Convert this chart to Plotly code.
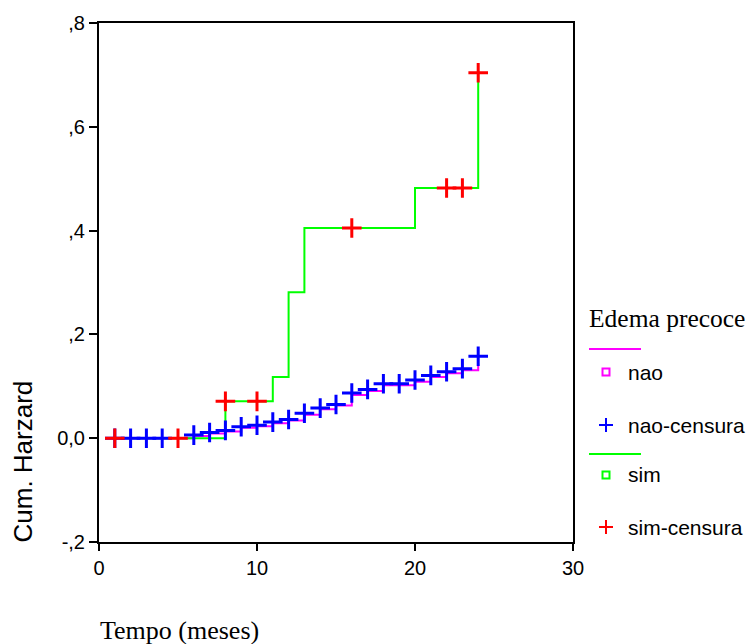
import plotly.graph_objects as go

# ---- data ----
nao_t = [1, 2, 3, 4, 5, 6, 7, 8, 9, 10, 11, 12, 13, 14, 15, 16, 17, 18, 19, 20, 21, 22, 23, 24]
nao_h = [0.0, 0.0, 0.0, 0.0, 0.0, 0.004, 0.009, 0.013, 0.020, 0.023, 0.029, 0.034, 0.045,
         0.056, 0.063, 0.083, 0.091, 0.102, 0.102, 0.109, 0.118, 0.125, 0.131, 0.143]
nao_cens_t = [1, 2, 3, 4, 6, 7, 8, 9, 10, 11, 12, 13, 14, 15, 16, 17, 18, 19, 20, 21, 22, 23, 24]
nao_cens_h = [0.0, 0.0, 0.0, 0.0, 0.006, 0.011, 0.015, 0.022, 0.025, 0.031, 0.036, 0.048,
              0.058, 0.065, 0.087, 0.094, 0.105, 0.105, 0.112, 0.121, 0.128, 0.134, 0.158]

sim_t = [1, 8, 11, 12, 13, 20, 24]
sim_h = [0.0, 0.071, 0.118, 0.281, 0.405, 0.482, 0.704]
sim_cens_t = [1, 5, 8, 10, 16, 22, 23, 24]
sim_cens_h = [0.0, 0.0, 0.071, 0.071, 0.405, 0.482, 0.482, 0.704]

y_tickvals = [-0.2, 0.0, 0.2, 0.4, 0.6, 0.8]
y_ticktext = ["-,2", "0,0", ",2", ",4", ",6", ",8"]
x_tickvals = [0, 10, 20, 30]

legend_title = "Edema precoce"
legend_labels = ["nao", "nao-censura", "sim", "sim-censura"]

MAGENTA = "#ff00ff"
BLUE = "#0000ff"
GREEN = "#00ff00"
RED = "#ff0000"

SANS = "Liberation Sans, Arial, sans-serif"
SERIF = "Liberation Serif, Times New Roman, serif"

fig = go.Figure()
fig.add_trace(go.Scatter(x=nao_t, y=nao_h, mode="lines", line=dict(color=MAGENTA, width=2, shape="hv"),
                         name="nao", showlegend=False))
fig.add_trace(go.Scatter(x=sim_t, y=sim_h, mode="lines", line=dict(color=GREEN, width=2, shape="hv"),
                         name="sim", showlegend=False))
fig.add_trace(go.Scatter(x=nao_cens_t, y=nao_cens_h, mode="markers",
                         marker=dict(symbol="cross-thin", size=14, line=dict(color=BLUE, width=3)),
                         name="nao-censura", showlegend=False))
fig.add_trace(go.Scatter(x=sim_cens_t, y=sim_cens_h, mode="markers",
                         marker=dict(symbol="cross-thin", size=14, line=dict(color=RED, width=3)),
                         name="sim-censura", showlegend=False))

# ---- custom legend (paper coordinates) ----
W, H = 751, 644
L, R, T, B = 99, 178, 23, 102
pw, ph = W - L - R, H - T - B

def px(x):
    return (x - L) / pw

def py(y):
    return (H - B - y) / ph

ann = []
shapes = []
ann.append(dict(text=legend_title, x=px(587), y=py(318), xref="paper", yref="paper",
                xanchor="left", yanchor="middle", showarrow=False,
                font=dict(family=SERIF, size=25.5, color="black")))
# line samples
for yy, col in [(349, MAGENTA), (454, GREEN)]:
    shapes.append(dict(type="line", xref="paper", yref="paper", x0=px(589), x1=px(641),
                       y0=py(yy), y1=py(yy), line=dict(color=col, width=2)))
# square samples
for yc, col in [(372, MAGENTA), (475, GREEN)]:
    shapes.append(dict(type="rect", xref="paper", yref="paper", x0=px(602.5), x1=px(609.5),
                       y0=py(yc - 3.5), y1=py(yc + 3.5), line=dict(color=col, width=2)))
# cross samples
for yy, col in [(425, BLUE), (527, RED)]:
    shapes.append(dict(type="line", xref="paper", yref="paper", x0=px(599), x1=px(613),
                       y0=py(yy), y1=py(yy), line=dict(color=col, width=2)))
    shapes.append(dict(type="line", xref="paper", yref="paper", x0=px(606), x1=px(606),
                       y0=py(yy - 7), y1=py(yy + 7), line=dict(color=col, width=2)))
for lab, yy in zip(legend_labels, [372, 425, 475, 527]):
    ann.append(dict(text=lab, x=px(626), y=py(yy), xref="paper", yref="paper",
                    xanchor="left", yanchor="middle", showarrow=False,
                    font=dict(family=SANS, size=21, color="black")))

# axis titles
ann.append(dict(text="Tempo (meses)", x=px(98), y=py(630), xref="paper", yref="paper",
                xanchor="left", yanchor="middle", showarrow=False,
                font=dict(family=SERIF, size=26, color="black")))
ann.append(dict(text="Cum. Harzard", x=px(22.5), y=py(462), xref="paper", yref="paper",
                xanchor="center", yanchor="middle", showarrow=False, textangle=-90,
                font=dict(family=SANS, size=26, color="black")))

fig.update_layout(
    width=W, height=H,
    margin=dict(l=L, r=R, t=T, b=B, pad=0),
    plot_bgcolor="white", paper_bgcolor="white",
    showlegend=False,
    annotations=ann, shapes=shapes,
    xaxis=dict(range=[0, 30], tickvals=x_tickvals, ticks="outside", ticklen=7, tickwidth=2,
               tickcolor="black", showline=True, linecolor="black", linewidth=2, mirror=True,
               showgrid=False, zeroline=False,
               tickfont=dict(family=SANS, size=20, color="black")),
    yaxis=dict(range=[-0.2, 0.8], tickvals=y_tickvals, ticktext=y_ticktext, ticks="outside",
               ticklen=8, tickwidth=2, tickcolor="black", showline=True, linecolor="black",
               linewidth=2, mirror=True, showgrid=False, zeroline=False,
               tickfont=dict(family=SANS, size=20, color="black")),
)

fig.write_html("out.html")
